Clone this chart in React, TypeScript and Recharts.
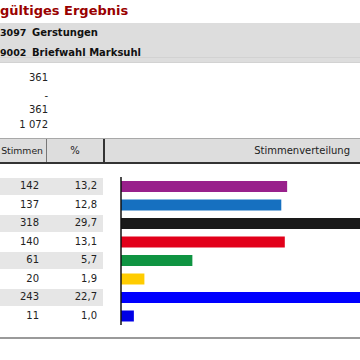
import React from "react";
import { BarChart, Bar, Cell, XAxis, YAxis } from "recharts";

// Gebiet / Kopfzeilen
const titel = "gültiges Ergebnis";
const gebiete = [
  { nr: "3097", name: "Gerstungen" },
  { nr: "9002", name: "Briefwahl Marksuhl" },
];
const summen = ["361", "-", "361", "1 072"];

// Parteien (Namen im Ausschnitt nicht sichtbar)
const parteien = ["P1", "P2", "P3", "P4", "P5", "P6", "P7", "P8"];
const stimmen = [142, 137, 318, 140, 61, 20, 243, 11];
const prozent = [13.2, 12.8, 29.7, 13.1, 5.7, 1.9, 22.7, 1.0];
const farben = [
  "#99208b",
  "#1670c0",
  "#1a1a1a",
  "#e2001a",
  "#0f9442",
  "#ffcc00",
  "#0000ff",
  "#0000e6",
];

const data = parteien.map((p, i) => ({
  name: p,
  stimmen: stimmen[i],
  prozent: prozent[i],
}));

const CHART_TOP = 177;
const ROW_H = 18.5;

const fmt = (v: number) => v.toFixed(1).replace(".", ",");

function Txt({
  x,
  cy,
  w,
  align = "right",
  bold = false,
  size = 10,
  color = "#222",
  children,
}: {
  x: number;
  cy: number;
  w: number;
  align?: "left" | "right" | "center";
  bold?: boolean;
  size?: number;
  color?: string;
  children: React.ReactNode;
}) {
  return (
    <div
      style={{
        position: "absolute",
        left: x,
        top: cy - 9,
        width: w,
        height: 18,
        lineHeight: "18px",
        textAlign: align,
        fontSize: size,
        fontWeight: bold ? "bold" : "normal",
        color,
        whiteSpace: "nowrap",
      }}
    >
      {children}
    </div>
  );
}

function Box({ x, y, w, h, bg }: { x: number; y: number; w: number; h: number; bg: string }) {
  return (
    <div style={{ position: "absolute", left: x, top: y, width: w, height: h, background: bg }} />
  );
}

export default function App() {
  return (
    <div
      style={{
        position: "absolute",
        left: 0,
        top: 0,
        width: 360,
        height: 360,
        overflow: "hidden",
        background: "#fff",
        fontFamily: "'DejaVu Sans', Verdana, sans-serif",
      }}
    >
      {/* Titel */}
      <Txt x={0} cy={11} w={200} align="left" bold size={13} color="#990000">
        {titel}
      </Txt>

      {/* Gebiet */}
      <Box x={0} y={23} w={360} h={40} bg="#dddddd" />
      <Box x={0} y={57} w={360} h={1} bg="#d2d2d2" />
      <Box x={0} y={62} w={360} h={1} bg="#d2d2d2" />
      {gebiete.map((g, i) => (
        <React.Fragment key={g.nr}>
          <Txt x={0} cy={33 + i * 20} w={30} align="left" bold size={9.5} color="#111">
            {g.nr}
          </Txt>
          <Txt x={32} cy={33 + i * 20} w={200} align="left" bold color="#111">
            {g.name}
          </Txt>
        </React.Fragment>
      ))}

      {/* Summen */}
      {summen.map((s, i) => (
        <Txt key={i} x={0} cy={[78, 96, 110, 125][i]} w={48}>
          {s}
        </Txt>
      ))}

      {/* Tabellenkopf */}
      <Box x={0} y={138} w={360} h={1} bg="#a8a8a8" />
      <Box x={0} y={139} w={360} h={23} bg="#dddddd" />
      <Box x={0} y={162} w={360} h={1.5} bg="#333" />
      <Box x={46} y={139} w={1} h={23} bg="#777" />
      <Box x={103} y={139} w={1.5} h={23} bg="#333" />
      <Txt x={0} cy={151} w={43} size={9.3}>Stimmen</Txt>
      <Txt x={47} cy={151} w={56} align="center">%</Txt>
      <Txt x={104} cy={151} w={246}>Stimmenverteilung</Txt>

      {/* Zeilen */}
      {data.map((d, i) => {
        const cy = CHART_TOP + ROW_H * (i + 0.5);
        return (
          <React.Fragment key={d.name}>
            {i % 2 === 0 && <Box x={0} y={cy - 8.5} w={103} h={17} bg="#e6e6e6" />}
            <Txt x={0} cy={cy} w={39}>{d.stimmen}</Txt>
            <Txt x={47} cy={cy} w={50}>{fmt(d.prozent)}</Txt>
          </React.Fragment>
        );
      })}

      {/* Balken */}
      <div style={{ position: "absolute", left: 119, top: CHART_TOP }}>
        <BarChart
          width={470}
          height={ROW_H * data.length}
          data={data}
          layout="vertical"
          margin={{ top: 0, right: 0, bottom: 0, left: 0 }}
          barSize={11}
        >
          <XAxis type="number" domain={[0, 400]} hide />
          <YAxis
            type="category"
            dataKey="name"
            width={2}
            tick={false}
            tickLine={false}
            axisLine={{ stroke: "#111", strokeWidth: 1.5 }}
          />
          <Bar dataKey="stimmen" isAnimationActive={false}>
            {data.map((d, i) => (
              <Cell key={d.name} fill={farben[i]} />
            ))}
          </Bar>
        </BarChart>
      </div>

      {/* Abschlusslinie */}
      <Box x={0} y={337} w={360} h={2} bg="#9a9a9a" />
    </div>
  );
}
